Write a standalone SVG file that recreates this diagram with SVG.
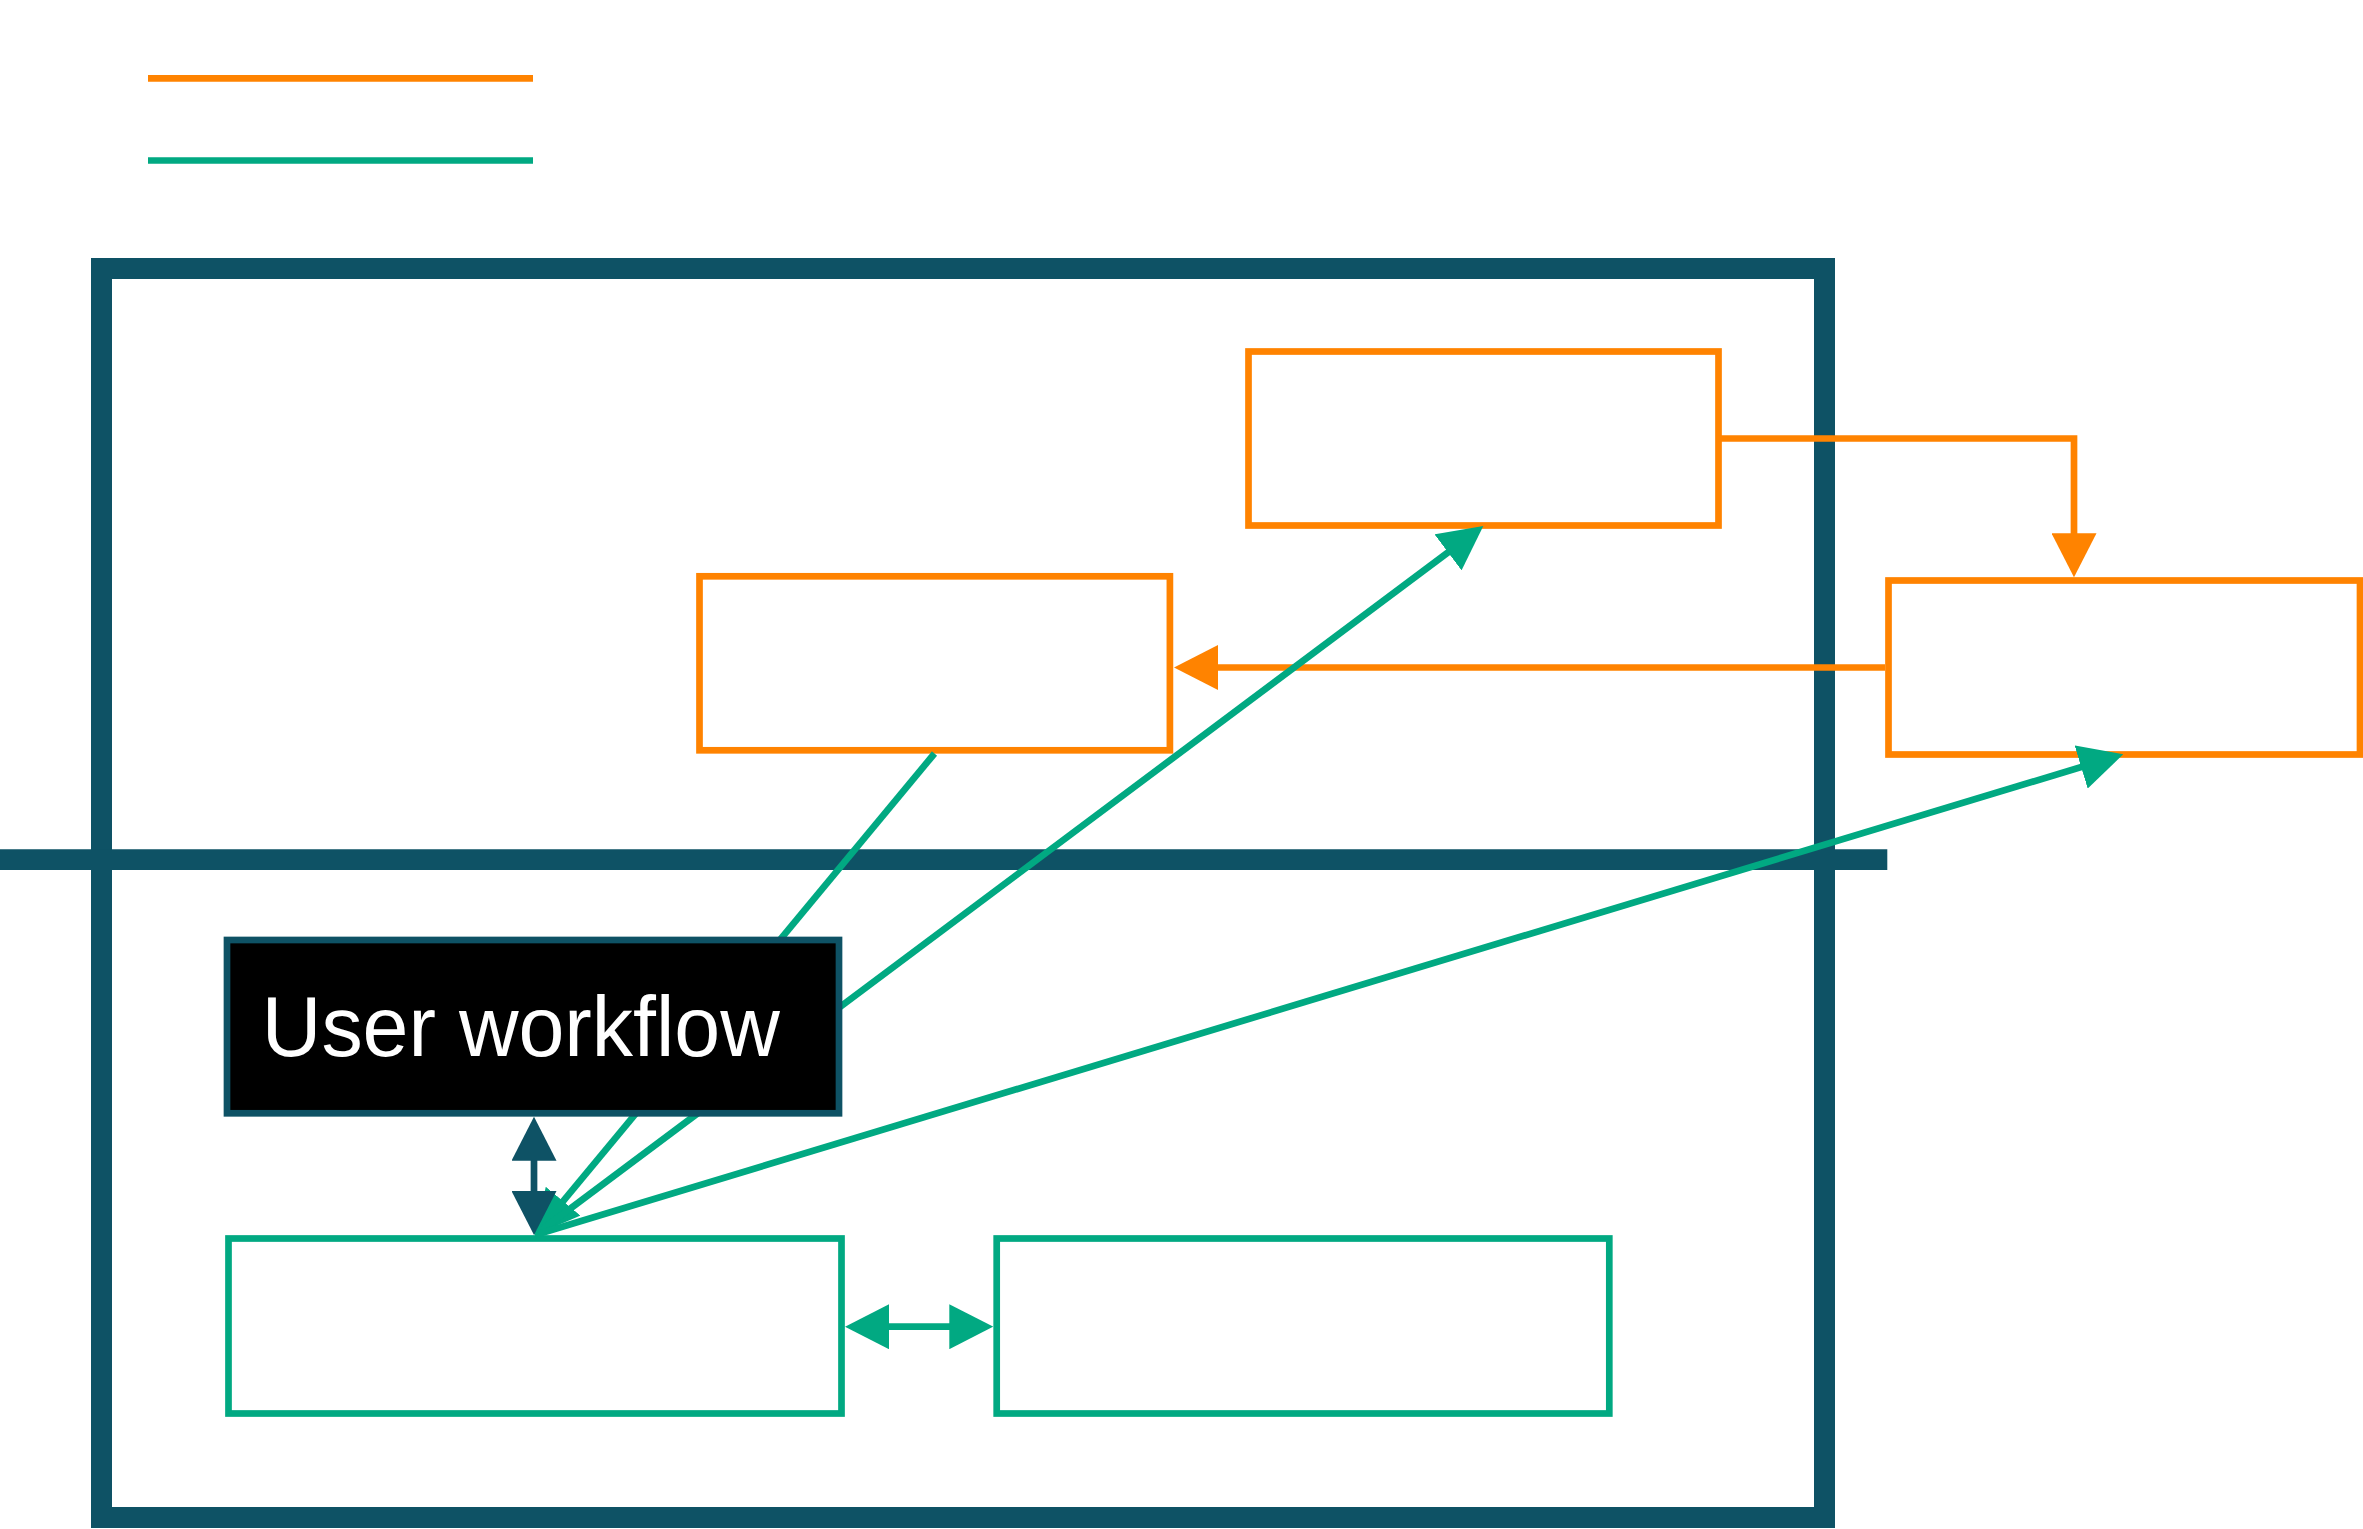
<svg xmlns="http://www.w3.org/2000/svg" width="2363" height="1529" viewBox="0 0 2363 1529">
  <style>
    .frame { fill: none; stroke: #0E5265; }
    .box-o { fill: #FFFFFF; stroke: #FF8300; stroke-width: 6.7; }
    .box-g { fill: #FFFFFF; stroke: #01A982; stroke-width: 6.7; }
    .box-k { fill: #000000; stroke: #0E5265; stroke-width: 6.7; }
    .c-o { fill: none; stroke: #FF8300; stroke-width: 6.7; }
    .c-g { fill: none; stroke: #01A982; stroke-width: 6.7; }
    .c-t { fill: none; stroke: #0E5265; stroke-width: 6.7; }
    .label { font-family: "Liberation Sans", Arial, sans-serif; font-size: 84.5px; fill: #FFFFFF; }
  </style>
  <defs>
    <marker id="arrO" markerUnits="userSpaceOnUse" markerWidth="44" markerHeight="45" refX="34" refY="22.5" orient="auto-start-reverse">
      <path d="M0,0 L44,22.5 L0,45 Z" fill="#FF8300"/>
    </marker>
    <marker id="arrG" markerUnits="userSpaceOnUse" markerWidth="44" markerHeight="45" refX="34" refY="22.5" orient="auto-start-reverse">
      <path d="M0,0 L44,22.5 L0,45 Z" fill="#01A982"/>
    </marker>
    <marker id="arrT" markerUnits="userSpaceOnUse" markerWidth="44" markerHeight="45" refX="34" refY="22.5" orient="auto-start-reverse">
      <path d="M0,0 L44,22.5 L0,45 Z" fill="#0E5265"/>
    </marker>
  </defs>
  <rect width="2363" height="1529" fill="#FFFFFF"/>

  <g id="legend">
    <line x1="148" y1="78.3" x2="533" y2="78.3" class="c-o"/>
    <line x1="148" y1="160.5" x2="533" y2="160.5" class="c-g"/>
  </g>

  <g id="frame">
    <rect x="101.5" y="268.5" width="1723" height="1249" class="frame" stroke-width="21"/>
    <line x1="0" y1="859.7" x2="1887.3" y2="859.7" class="frame" stroke-width="20.7"/>
  </g>

  <g id="node-box1"><rect x="699.5" y="576.3" width="470.4" height="174" class="box-o"/></g>
  <g id="node-box2"><rect x="1248.5" y="351.5" width="470" height="174" class="box-o"/></g>
  <g id="node-box3"><rect x="1888.5" y="580.5" width="471.5" height="174" class="box-o"/></g>
  <g id="node-box4"><rect x="228.5" y="1238.5" width="613" height="175" class="box-g"/></g>
  <g id="node-box5"><rect x="996.7" y="1238.5" width="612.6" height="175" class="box-g"/></g>

  <g id="connectors">
    <path d="M1718.5,438.5 H2074 V567.3" class="c-o" marker-end="url(#arrO)"/>
    <path d="M1885,667.5 H1184" class="c-o" marker-end="url(#arrO)"/>
    <path d="M934.5,753.5 L541.4,1227.3" class="c-g" marker-end="url(#arrG)"/>
    <path d="M535,1235 L1475.3,532" class="c-g" marker-end="url(#arrG)"/>
    <path d="M535,1235 L2113.7,757.2" class="c-g" marker-end="url(#arrG)"/>
    <path d="M534,1126.7 V1225" class="c-t" marker-start="url(#arrT)" marker-end="url(#arrT)"/>
    <path d="M855,1326.7 H983.3" class="c-g" marker-start="url(#arrG)" marker-end="url(#arrG)"/>
  </g>

  <g id="node-user-workflow">
    <rect x="227" y="940" width="612" height="173.3" class="box-k"/>
    <text x="261.8" y="1056" class="label" textLength="518" lengthAdjust="spacingAndGlyphs">User workflow</text>
  </g>
</svg>
